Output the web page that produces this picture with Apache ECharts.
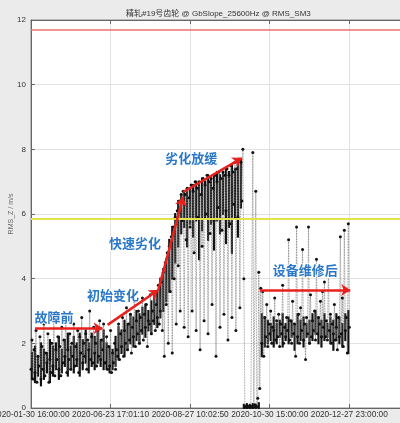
<!DOCTYPE html>
<html><head><meta charset="utf-8">
<script src="https://cdn.jsdelivr.net/npm/echarts@6/dist/echarts.min.js"></script>
<style>html,body{margin:0;padding:0;background:#ebebeb}#c{width:400px;height:423px}</style>
</head><body><div id="c"></div>
<script>
// tick labels (sample index axis, labels are timestamps)
const tickLabels = ['2020-01-30 16:00:00','2020-06-23 17:01:10','2020-08-27 10:02:50','2020-10-30 15:00:00','2020-12-27 23:00:00'];
const tickStep = 80;

// RMS samples (spread points), phase by phase
const preFault = [1.2,2.1,0.9,1.8,1.1,2.4,0.8,1.6,1.3,2.2,0.9,1.9,1.2,2.6,1.0,1.7,1.4,2.3,0.8,1.5,1.1,2.0,1.3,2.7,1.0,1.8,1.5,2.2,1.2,1.9,1.0,2.5,1.4,2.1,1.6,2.9,1.1,1.8,1.5,2.3,1.2,2.0,1.6,2.6,1.3,1.9,1.5,2.4,1.1,2.2,1.7,2.8,1.4,2.0,1.6,2.3,1.2,2.1,1.8,3.0,1.5,2.2,1.4,2.5,1.7,2.0,1.3,2.4,1.6,2.7,1.5,2.1,1.8,2.6,1.4];
const initialChange = [1.4,2.2,1.2,1.9,1.3,2.4,1.1,1.7,1.4,2.0,1.2,1.8,1.6,2.6,1.5,2.3,1.9,2.8,1.6,2.4,2.0,3.1,1.8,2.6,2.1,2.9,1.7,2.5,2.2,3.3,1.9,2.7,2.3,3.0,2.0,2.8,2.4,3.4,2.1,2.9,2.5,3.2,1.9,2.7,2.6,3.5,2.3,3.0,2.7,3.6,2.4,3.2,2.8,3.8,2.6];
const rapidDegradation = [3.0,3.9,2.4,4.2,1.6,4.5,3.2,4.8,2.0,5.0,3.6,5.3,1.7,5.6,4.0,5.9,2.6,6.1,4.4,6.4,3.0,6.6];
const slowDegradation = [5.8,6.7,2.5,6.6,5.2,6.8,2.2,6.5,5.6,6.9,3.0,6.7,4.8,7.0,2.4,6.8,5.9,7.0,1.8,6.6,5.0,7.1,2.7,6.9,6.0,7.2,2.3,7.0,5.4,7.1,3.2,6.8,5.8,7.2,1.6,7.0,6.2,7.3,2.5,7.1,5.5,7.3,2.9,7.2,6.1,7.4,2.1,7.2,5.7,7.5,2.8,7.3,6.3,7.6,2.4,7.4,5.9,7.7,3.1,7.6,6.4,8.0,4.0];
const shutdown = [0.05,0.02,0.08,0.03,0.05,0.02,0.06,0.03,7.9,0.04,0.1,6.7,0.05,0.3,4.2,0.6,3.7];
const afterRepair = [2.0,3.6,1.6,2.8,2.2,3.2,1.9,2.6,2.3,3.0,2.0,2.5,2.4,3.4,2.1,2.7,2.2,2.9,1.9,2.6,2.3,3.8,2.0,2.5,2.2,2.8,2.4,5.2,2.1,2.7,2.0,3.3,2.3,2.6,1.6,5.6,2.2,2.9,2.0,3.1,2.4,4.9,2.1,2.6,1.5,2.8,2.3,5.6,2.0,3.5,2.2,2.7,2.4,3.0,2.1,4.6,2.3,2.8,2.6,3.3,2.2,3.6,2.5,3.9,2.2,2.7,2.1,4.3,2.4,2.9,2.0,2.6,2.3,3.2,2.1,2.5,1.8,2.8,2.2,5.3,2.3,3.4,1.9,5.5,2.4,2.8,1.7,5.7,2.5];

// dense core of the point cloud: one column every 3 samples (starting at sample 1)
const coreStep = 3;
const coreLow = [0.9,0.8,1.0,0.7,0.9,1.1,0.8,1.0,1.2,0.9,1.1,1.3,1.0,1.2,1.1,1.3,1.0,1.2,1.4,1.1,1.3,1.2,1.4,1.3,1.2,
  1.2,1.1,1.2,1.3,1.5,1.7,1.6,1.8,2.0,1.9,2.1,2.0,2.3,2.2,2.4,2.3,2.6,2.5,
  2.8,3.0,3.3,3.6,4.0,4.5,5.0,
  5.4,5.6,5.0,5.7,5.3,5.8,4.6,5.5,5.9,5.2,5.7,4.9,5.8,5.4,6.0,5.1,5.6,4.8,5.9,5.3,6.2,
  0,0,0,0,0,0,
  1.6,1.9,2.0,2.1,1.9,2.0,2.2,1.9,2.1,2.0,2.2,1.8,2.0,2.1,1.9,2.2,2.0,2.1,2.3,2.0,1.9,2.1,2.2,2.0,1.8,2.1,2.0,1.9,2.1,1.7];
const coreHigh = [1.7,1.9,1.6,2.0,1.8,1.7,2.1,1.9,2.0,2.2,1.8,2.1,2.3,1.9,2.2,2.0,2.3,2.1,2.4,2.0,2.3,2.2,2.5,2.1,2.4,
  2.0,1.9,1.8,2.2,2.5,2.4,2.7,2.6,2.9,2.8,3.0,2.9,3.1,3.2,3.0,3.3,3.5,3.6,
  4.0,4.3,4.6,5.2,5.6,6.0,6.4,
  6.6,6.7,6.8,6.8,6.9,7.0,6.9,7.1,7.0,7.2,7.1,7.2,7.3,7.2,7.3,7.4,7.3,7.5,7.4,7.6,7.7,
  0.1,0.12,0.1,0.12,0.1,0.15,
  2.9,2.8,2.7,2.6,2.8,2.6,2.7,2.9,2.6,2.8,2.7,2.6,2.9,2.7,2.8,2.6,2.7,2.9,3.0,2.8,2.7,2.9,2.6,2.8,2.7,2.9,2.8,2.6,2.9,3.0];

// thresholds
const alarmHigh = 11.7;
const alarmLow = 5.85;

// annotation arrows [x0,y0,x1,y1] in data units, and labels [text,x,y]
const arrows = [[4,2.47,72,2.47],[77,2.57,128,3.65],[128,3.65,153,6.53],[153,6.68,212,7.73],[230,3.65,321,3.65]];
const notes = [['故障前',23,2.81],['初始变化',82.5,3.5],['快速劣化',104.6,5.1],['劣化放缓',161,7.73],['设备维修后',275.7,4.27]];

const all = [].concat(preFault, initialChange, rapidDegradation, slowDegradation, shutdown, afterRepair);
const seriesData = all.map((v,i)=>[i,v]);
const coreData = coreLow.map((lo,i)=>[1+i*coreStep, lo, coreHigh[i]]);

const chart = echarts.init(document.getElementById('c'));
const axisFont = {fontSize:8.3,color:'#333',fontFamily:'Liberation Sans, Arial'};
chart.setOption({
  backgroundColor:'#ebebeb',
  animation:false,
  title:{text:'精轧#19号齿轮 @ GbSlope_25600Hz @ RMS_SM3',left:121,top:5,textStyle:{fontSize:8,fontWeight:'normal',color:'#333',fontFamily:'Liberation Sans, Noto Sans CJK SC'}},
  grid:{left:31,right:-5,top:20,bottom:15,outerBoundsMode:'none',containLabel:false,show:true,backgroundColor:'#fff',borderColor:'#888',borderWidth:1},
  xAxis:[{type:'value',min:0,max:376,interval:tickStep,
    axisLine:{lineStyle:{color:'#666'}},axisTick:{inside:true,length:4,lineStyle:{color:'#666'}},
    splitLine:{show:true,lineStyle:{color:'#e2e2e2',width:1}},
    axisLabel:Object.assign({margin:3,showMinLabel:true,hideOverlap:false,formatter:v=>{const k=v/tickStep;return Number.isInteger(k)&&tickLabels[k]?tickLabels[k]:'';}},axisFont)},
   {type:'value',position:'top',min:0,max:376,interval:tickStep,
    axisLine:{lineStyle:{color:'#666'}},axisTick:{inside:true,length:4,lineStyle:{color:'#666'}},
    splitLine:{show:false},axisLabel:{show:false}}],
  yAxis:{type:'value',min:0,max:12,interval:2,name:'RMS_Z / m/s',nameLocation:'middle',nameGap:16,nameMoveOverlap:false,
    nameTextStyle:{fontSize:7,color:'#666'},
    axisLine:{show:true,lineStyle:{color:'#666'}},axisTick:{show:true,inside:true,length:4,lineStyle:{color:'#666'}},
    splitLine:{show:true,lineStyle:{color:'#e2e2e2'}},axisLabel:{margin:5,fontSize:8,color:'#333',fontFamily:'Liberation Sans, Arial'}},
  series:[
   {type:'line',data:[],silent:true,
    markLine:{silent:true,symbol:'none',animation:false,label:{show:false},
      data:[
        {yAxis:alarmHigh,lineStyle:{color:'#f07070',width:1.5,type:'solid'}},
        {yAxis:alarmLow,lineStyle:{color:'#e6e24a',width:2,type:'solid'}}
      ]}},
   {type:'line',data:seriesData,symbol:'circle',symbolSize:3,
    itemStyle:{color:'#111'},lineStyle:{type:'dotted',color:'#777',width:0.8}},
   {type:'custom',data:coreData,silent:true,encode:{x:0,y:[1,2]},
    renderItem:(params,api)=>{
      const p0=api.coord([api.value(0),api.value(1)]);
      const p1=api.coord([api.value(0),api.value(2)]);
      const w=api.size([2.2,0])[0];
      return {type:'rect',shape:{x:p0[0]-w/2,y:p1[1]-1,width:w,height:p0[1]-p1[1]+2},style:{fill:'#111'}};
    }},
   {type:'line',data:[],silent:true,
    markLine:{silent:true,symbol:['none','arrow'],symbolSize:9,animation:false,label:{show:false},
      data:arrows.map(a=>[{coord:[a[0],a[1]],lineStyle:{color:'#e8211c',width:2.5,type:'solid'}},{coord:[a[2],a[3]]}])},
    markPoint:{silent:true,symbol:'rect',symbolSize:1,itemStyle:{color:'rgba(0,0,0,0)'},
      label:{show:true,position:'inside',color:'#2a78c8',fontSize:13,fontWeight:'bold',fontFamily:'Noto Sans CJK SC',textBorderColor:'#fff',textBorderWidth:2,formatter:p=>p.name},
      data:notes.map(n=>({name:n[0],coord:[n[1],n[2]]}))}
  }]
});
</script></body></html>
